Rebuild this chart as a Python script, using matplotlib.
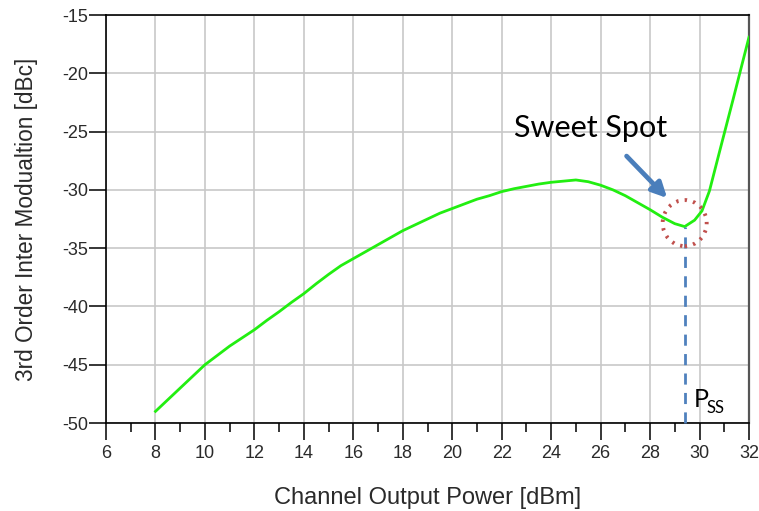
import matplotlib
matplotlib.use("Agg")
import matplotlib.pyplot as plt
from matplotlib.patches import Ellipse

# Measured IM3 vs channel output power
power_dbm = [8, 8.5, 9, 9.5, 10, 10.5, 11, 11.5, 12, 12.5, 13, 13.5, 14, 14.5,
             15, 15.5, 16, 16.5, 17, 17.5, 18, 18.5, 19, 19.5, 20, 20.5, 21,
             21.5, 22, 22.5, 23, 23.5, 24, 24.5, 25, 25.5, 26, 26.5, 27, 27.5,
             28, 28.5, 29, 29.4, 29.8, 30.1, 30.4, 30.8, 31.35, 32]
im3_dbc = [-49.0, -48.0, -47.0, -46.0, -45.0, -44.2, -43.4, -42.7, -42.0, -41.2,
           -40.45, -39.65, -38.9, -38.05, -37.25, -36.5, -35.9, -35.3, -34.7, -34.1,
           -33.5, -33.0, -32.5, -32.0, -31.6, -31.2, -30.8, -30.5, -30.15, -29.9,
           -29.7, -29.5, -29.35, -29.25, -29.15, -29.3, -29.6, -30.0, -30.5, -31.1,
           -31.7, -32.35, -32.9, -33.15, -32.6, -31.8, -30.1, -26.8, -22.3, -16.9]

sweet_spot_x = 29.4
sweet_spot_y = -33.15

x_ticks = list(range(6, 33, 2))
y_ticks = list(range(-50, -14, 5))

fig = plt.figure(figsize=(7.59, 5.11), dpi=100)
ax = fig.add_axes([0.1397, 0.1722, 0.8471, 0.7984])

ax.set_xlim(6, 32)
ax.set_ylim(-50, -15)
ax.set_xticks(x_ticks)
ax.set_xticks(list(range(7, 32, 2)), minor=True)
ax.set_yticks(y_ticks)
ax.set_xticklabels([str(v) for v in x_ticks])
ax.set_yticklabels([str(v) for v in y_ticks])

ax.grid(True, which="major", color="#c8c8c8", linewidth=1.2)
ax.set_axisbelow(True)

for side in ("left", "bottom", "top"):
    ax.spines[side].set_color("black")
    ax.spines[side].set_linewidth(1.2)
ax.spines["right"].set_color("#555555")
ax.spines["right"].set_linewidth(1.6)

ax.tick_params(axis="x", which="major", direction="out", length=12,
               width=1.1, pad=4, colors="black")
ax.tick_params(axis="x", which="minor", direction="out", length=6.5,
               width=1.1)
ax.tick_params(axis="y", which="major", direction="out", length=12,
               width=1.1, pad=1)
for lbl in ax.get_xticklabels() + ax.get_yticklabels():
    lbl.set_fontfamily("Liberation Sans")
    lbl.set_fontsize(13)
    lbl.set_color("#2a2a2a")

ax.plot(power_dbm, im3_dbc, color="#22ee11", linewidth=2.0, zorder=3)

# Sweet-spot marker: vertical dashed drop line and dotted ring
ax.plot([sweet_spot_x, sweet_spot_x], [-50, sweet_spot_y], color="#4f81bd",
        linestyle=(0, (4, 3)), linewidth=2.0, zorder=4, clip_on=False)
ring = Ellipse((sweet_spot_x, -32.85), width=1.78, height=3.95, fill=False,
               edgecolor="#c0504d", linewidth=2.8, linestyle=(0, (0.6, 1.6)),
               zorder=5)
ax.add_patch(ring)

ax.annotate("", xy=(28.69, -30.7), xytext=(27.05, -27.1),
            arrowprops=dict(arrowstyle="-|>,head_length=0.9,head_width=0.45",
                            color="#4a7ebb", linewidth=3.4,
                            shrinkA=0, shrinkB=0), zorder=6)
ax.text(22.5, -24.7, "Sweet Spot", fontfamily="Lato", fontsize=22,
        color="black", ha="left", va="center")
ax.text(29.78, -48.62, "P", fontfamily="Lato", fontsize=18, color="black",
        ha="left", va="baseline")
ax.text(30.3, -49.13, "SS", fontfamily="Lato", fontsize=12, color="black",
        ha="left", va="baseline")

ax.set_xlabel("Channel Output Power [dBm]", fontfamily="Liberation Sans",
              fontsize=17, color="#2a2a2a", labelpad=18)
ax.set_ylabel("3rd Order Inter Modualtion [dBc]", fontfamily="Liberation Sans",
              fontsize=16.3, color="#2a2a2a", labelpad=17)

fig.savefig("out.png", dpi=100)
